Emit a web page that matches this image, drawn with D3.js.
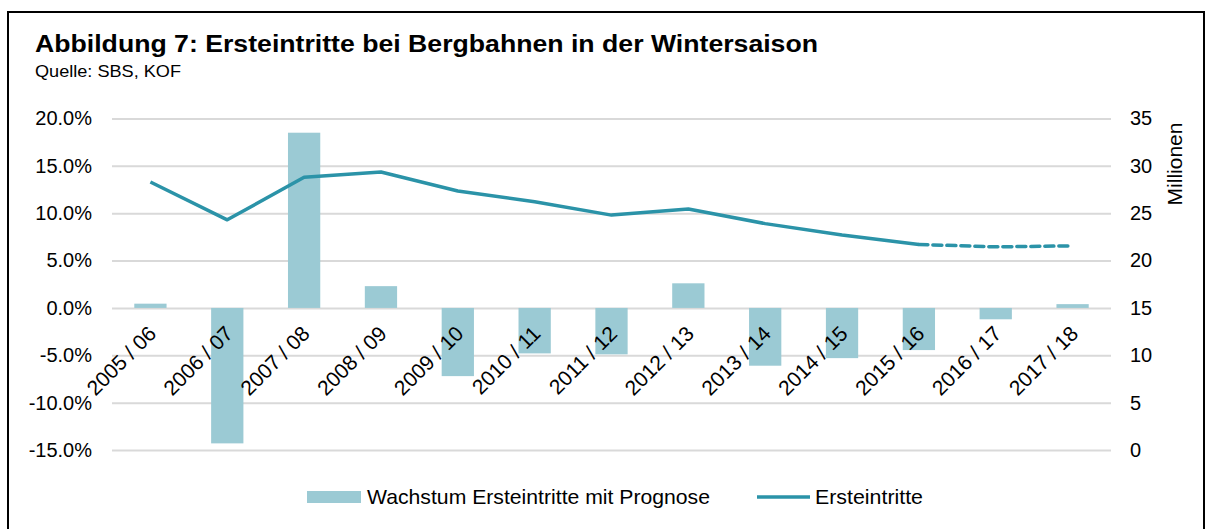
<!DOCTYPE html>
<html>
<head>
<meta charset="utf-8">
<script src="https://cdn.jsdelivr.net/npm/d3@7"></script>
<style>
  body { margin: 0; background: #fff; }
  svg { display: block; font-family: "Liberation Sans", Arial, sans-serif; }
</style>
</head>
<body>
<div id="chart"></div>
<script>
// Saisons und Werte
const seasons = ['2005 / 06', '2006 / 07', '2007 / 08', '2008 / 09', '2009 / 10', '2010 / 11', '2011 / 12',
  '2012 / 13', '2013 / 14', '2014 / 15', '2015 / 16', '2016 / 17', '2017 / 18'];
const growth = [0.45, -14.3, 18.5, 2.3, -7.2, -4.8, -4.9, 2.6, -6.1, -5.3, -4.45, -1.2, 0.4];   // %
const entries = [28.3, 24.3, 28.8, 29.35, 27.35, 26.2, 24.8, 25.45, 23.9, 22.7, 21.7, 21.45, 21.55]; // Mio.
const forecastFrom = '2015 / 16';
const leftTicks = [-15, -10, -5, 0, 5, 10, 15, 20];
const rightTicks = [0, 5, 10, 15, 20, 25, 30, 35];

const W = 1207, H = 529;
const margin = { top: 118.5, right: 96, bottom: 79, left: 112 };
const width = W - margin.left - margin.right;
const height = H - margin.top - margin.bottom;
const font = '"Liberation Sans", Arial, sans-serif';

const svg = d3.select('#chart').append('svg')
  .attr('width', W)
  .attr('height', H);

// Rahmen
svg.append('rect')
  .attr('x', 8).attr('y', 12)
  .attr('width', 1196).attr('height', 560)
  .attr('fill', 'none')
  .attr('stroke', '#000')
  .attr('stroke-width', 2);

svg.append('text')
  .attr('x', 35).attr('y', 52)
  .attr('font-size', 23).attr('font-weight', 'bold')
  .attr('textLength', 783).attr('lengthAdjust', 'spacingAndGlyphs')
  .text('Abbildung 7: Ersteintritte bei Bergbahnen in der Wintersaison');

svg.append('text')
  .attr('x', 35).attr('y', 77)
  .attr('font-size', 17)
  .attr('textLength', 146).attr('lengthAdjust', 'spacingAndGlyphs')
  .text('Quelle: SBS, KOF');

const g = svg.append('g')
  .attr('transform', `translate(${margin.left},${margin.top})`);

const x = d3.scaleBand()
  .domain(seasons)
  .range([0, width])
  .paddingInner(0.58)
  .paddingOuter(0.29);

const yL = d3.scaleLinear().domain([-15, 20]).range([height, 0]);
const yR = d3.scaleLinear().domain([0, 35]).range([height, 0]);

// Gitterlinien + linke Achse
const leftAxis = g.append('g')
  .call(d3.axisLeft(yL).tickValues(leftTicks).tickFormat(d => d.toFixed(1) + '%').tickSize(-width).tickPadding(20));
leftAxis.select('.domain').remove();
leftAxis.selectAll('.tick line').attr('stroke', '#d9d9d9').attr('stroke-width', 2);
leftAxis.selectAll('text').attr('font-size', 20).attr('fill', '#000').attr('font-family', font);

const rightAxis = g.append('g')
  .attr('transform', `translate(${width},0)`)
  .call(d3.axisRight(yR).tickValues(rightTicks).tickSize(0).tickPadding(19));
rightAxis.select('.domain').remove();
rightAxis.selectAll('text').attr('font-size', 20).attr('fill', '#000').attr('font-family', font);

g.append('text')
  .attr('transform', `translate(${width + 71},${yR(30.2)}) rotate(-90)`)
  .attr('text-anchor', 'middle')
  .attr('font-size', 21)
  .text('Millionen');

// Balken
g.selectAll('.bar')
  .data(seasons)
  .enter().append('rect')
  .attr('class', 'bar')
  .attr('x', d => x(d))
  .attr('width', x.bandwidth())
  .attr('y', (d, i) => yL(Math.max(0, growth[i])))
  .attr('height', (d, i) => Math.abs(yL(growth[i]) - yL(0)))
  .attr('fill', '#9bcad4');

// Kategorienbeschriftung
const cx = d => x(d) + x.bandwidth() / 2;
g.selectAll('.xlab')
  .data(seasons)
  .enter().append('text')
  .attr('class', 'xlab')
  .attr('transform', d => `translate(${cx(d) + 7},${yL(0) + 27}) rotate(-45)`)
  .attr('text-anchor', 'end')
  .attr('font-size', 21)
  .text(d => d);

// Linie: Ist-Werte durchgezogen, Prognose gestrichelt
const pts = seasons.map((s, i) => ({ s, v: entries[i] }));
const k = seasons.indexOf(forecastFrom);
const line = d3.line().x(d => cx(d.s)).y(d => yR(d.v));

g.append('path')
  .datum(pts.slice(0, k + 1))
  .attr('fill', 'none')
  .attr('stroke', '#2b93a8')
  .attr('stroke-width', 3.5)
  .attr('stroke-linejoin', 'round')
  .attr('d', line);

g.append('path')
  .datum(pts.slice(k))
  .attr('fill', 'none')
  .attr('stroke', '#2b93a8')
  .attr('stroke-width', 3.5)
  .attr('stroke-dasharray', '9,5')
  .attr('stroke-linecap', 'round')
  .attr('d', line);

// Legende
const lg = svg.append('g').attr('transform', 'translate(0,497)');
lg.append('rect').attr('x', 307).attr('y', -6).attr('width', 54).attr('height', 12).attr('fill', '#9bcad4');
lg.append('text').attr('x', 367).attr('y', 7).attr('font-size', 21)
  .attr('textLength', 343).attr('lengthAdjust', 'spacingAndGlyphs')
  .text('Wachstum Ersteintritte mit Prognose');
lg.append('line').attr('x1', 757).attr('x2', 810).attr('y1', 0).attr('y2', 0)
  .attr('stroke', '#2b93a8').attr('stroke-width', 3.5);
lg.append('text').attr('x', 815).attr('y', 7).attr('font-size', 21)
  .attr('textLength', 108).attr('lengthAdjust', 'spacingAndGlyphs')
  .text('Ersteintritte');
</script>
</body>
</html>
